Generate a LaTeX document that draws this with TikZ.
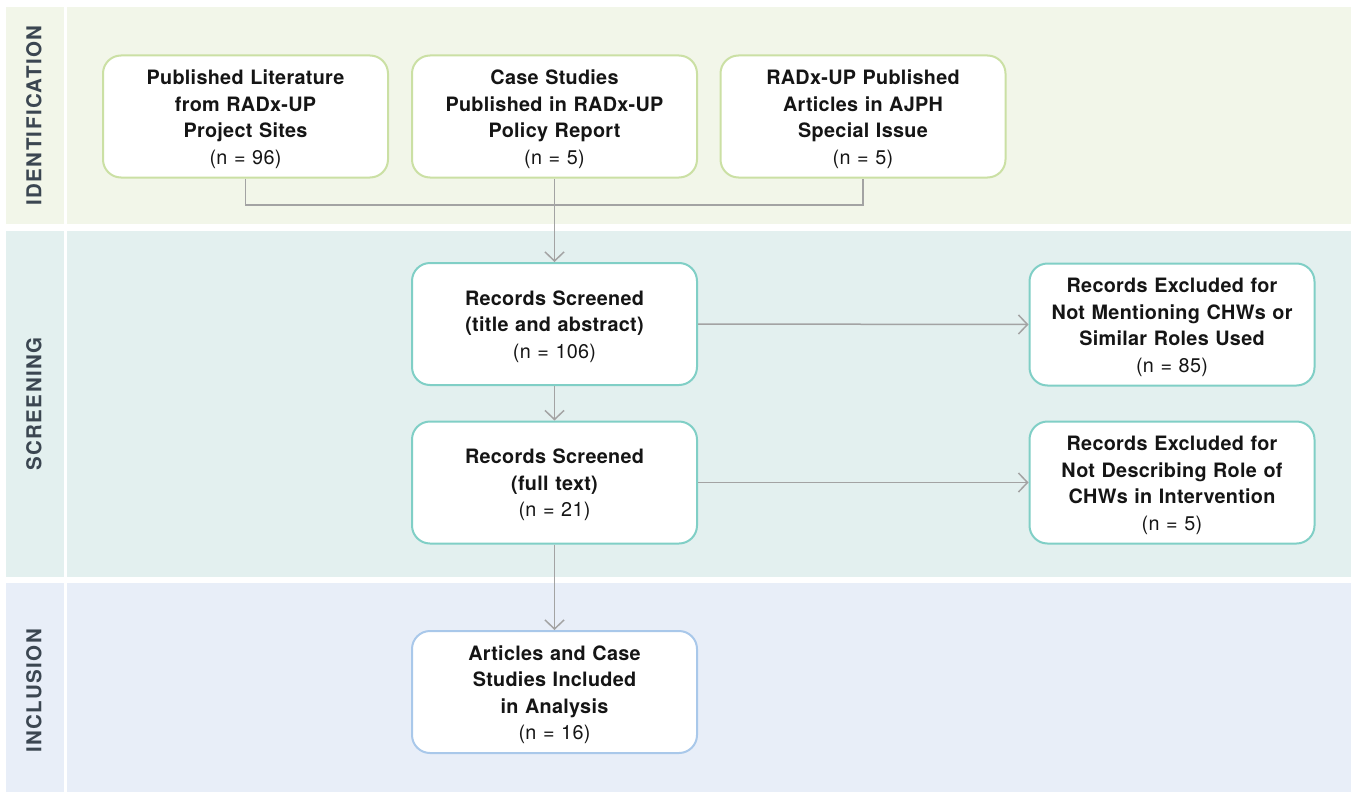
\documentclass[tikz,border=0pt]{standalone}
\usepackage{fontspec}
\setmainfont{TeX Gyre Heros}[LetterSpace=1.5]
\newfontfamily\lblfont{TeX Gyre Heros}[LetterSpace=7]
\usetikzlibrary{arrows.meta}
\definecolor{bandA}{HTML}{F2F6E9}
\definecolor{bandB}{HTML}{E3F0EF}
\definecolor{bandC}{HTML}{E8EEF8}
\definecolor{lineA}{HTML}{CBE0A4}
\definecolor{lineB}{HTML}{80CFC6}
\definecolor{lineC}{HTML}{A9C8EA}
\definecolor{arrowgray}{HTML}{A3A3A3}
\definecolor{lbltext}{HTML}{3B4651}
\definecolor{bodytext}{HTML}{151515}
\begin{document}
\begin{tikzpicture}[x=1pt,y=-1pt,
  box/.style={draw, line width=2pt, rounded corners=18pt, fill=white,
    minimum width=285pt, minimum height=122pt, text width=280pt, align=center,
    inner sep=0pt, text=bodytext, font=\fontsize{19.8}{26.5}\selectfont\bfseries,
    execute at begin node={\rule{0pt}{20pt}}},
  boxA/.style={box, draw=lineA},
  boxB/.style={box, draw=lineB},
  boxC/.style={box, draw=lineC},
  lbl/.style={rotate=90, text=lbltext, font=\lblfont\fontsize{20.5}{24}\selectfont\bfseries, inner sep=0pt},
  conn/.style={draw=arrowgray, line width=1.5pt},
  arr/.style={conn, -{Straight Barb[length=9pt,width=19pt,line width=1.5pt]}}
]
\useasboundingbox (0,0) rectangle (1351,792);
\fill[white] (0,0) rectangle (1351,792);
% bands
\fill[bandA] (6,7) rectangle (64,224);
\fill[bandA] (67,7) rectangle (1351,224);
\fill[bandB] (6,231) rectangle (64,577);
\fill[bandB] (67,231) rectangle (1351,577);
\fill[bandC] (6,583) rectangle (64,792);
\fill[bandC] (67,583) rectangle (1351,792);
% labels
\node[lbl] (lid) at (34,115.5) {IDENTIFICATION};
\node[lbl] (lsc) at (34,404) {SCREENING};
\node[lbl] (lin) at (34,691) {INCLUSION};
% nodes
\node[boxA] (pub) at (245.5,116.5) {Published Literature\\from RADx-UP\\Project Sites\\{\mdseries (n = 96)}};
\node[boxA] (case) at (554.5,116.5) {Case Studies\\Published in RADx-UP\\Policy Report\\{\mdseries (n = 5)}};
\node[boxA] (ajph) at (863,116.5) {RADx-UP Published\\Articles in AJPH\\Special Issue\\{\mdseries (n = 5)}};
\node[boxB] (rs1) at (554.5,324) {Records Screened\\(title and abstract)\\{\mdseries (n = 106)}};
\node[boxB] (rs2) at (554.5,482.5) {Records Screened\\(full text)\\{\mdseries (n = 21)}};
\node[boxB] (ex1) at (1172,324.5) {Records Excluded for\\Not Mentioning CHWs or\\Similar Roles Used\\{\mdseries (n = 85)}};
\node[boxB] (ex2) at (1172,482.5) {Records Excluded for\\Not Describing Role of\\CHWs in Intervention\\{\mdseries (n = 5)}};
\node[boxC] (inc) at (554.5,692) {Articles and Case\\Studies Included\\in Analysis\\{\mdseries (n = 16)}};
% connectors
\coordinate (joinL) at (pub.south |- 0,205);
\draw[conn] (pub.south) -- (joinL) -| (ajph.south);
\draw[arr] (case.south) -- (rs1.north);
\draw[arr] (rs1.south) -- (rs2.north);
\draw[arr] (rs2.south) -- (inc.north);
\draw[arr] (rs1.east) -- (ex1.west);
\draw[arr] (rs2.east) -- (ex2.west);
\end{tikzpicture}
\end{document}
